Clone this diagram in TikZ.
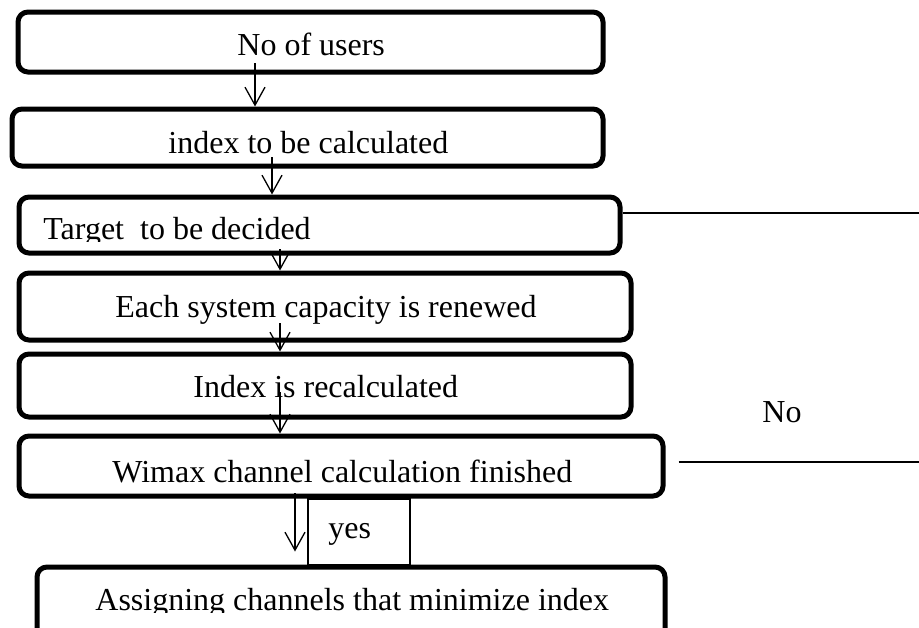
\documentclass[tikz,border=0pt]{standalone}
\usepackage{fontspec}
\setmainfont{Liberation Serif}
\usepackage{tikz}
\usetikzlibrary{arrows.meta,positioning,fit,calc}

\begin{document}
\begin{tikzpicture}[
  x=0.5pt, y=-0.5pt,
  font=\fontsize{16}{19}\selectfont,
  >={Straight Barb[length=9pt,width=10pt]},
  stepbox/.style={draw, rounded corners=5pt, line width=2.5pt, inner sep=0pt},
  yesbox/.style={draw, line width=0.65pt, inner sep=0pt},
  txt/.style={anchor=base west, inner sep=0pt},
  flow/.style={->, line width=0.65pt},
  back/.style={line width=0.65pt}]
\clip (0,0) rectangle (919,627);
% process boxes
\node[stepbox, fit={(18,12) (603,72)}] (users) {};
\node[stepbox, fit={(12,109) (603,166)}] (calc) {};
\node[stepbox, fit={(19,197) (620,253)}] (target) {};
\node[stepbox, fit={(19,273) (631,340)}] (renew) {};
\node[stepbox, fit={(19,354) (631,417)}] (recalc) {};
\node[stepbox, fit={(19,436) (663,496)}] (wimax) {};
\node[stepbox, fit={(37,567) (665,660)}] (assign) {};
\node[yesbox, fit={(308,499) (410,565)}] (yes) {};
% texts
\node[txt] (lusers) at (237,55) {No of users};
\node[txt] (lcalc) at (168,153) {index to be calculated};
\begin{scope}
\clip (0,0) rectangle (919,241);
\node[txt] (ltarget) at (43,239) {Target\ \ to be decided};
\end{scope}
\node[txt] (lrenew) at (115,317) {Each system capacity is renewed};
\node[txt] (lrecalc) at (193,397) {Index is recalculated};
\node[txt] (lwimax) at (112,482) {Wimax channel calculation finished};
\begin{scope}
\clip (0,0) rectangle (919,612);
\node[txt] (lassign) at (95,610) {Assigning channels that minimize index};
\end{scope}
\node[txt] (lyes) at (328,538) {yes};
\node[txt] (lno) at (762,422) {No};
% arrows
\coordinate (t1) at (255,63);
\coordinate (t2) at (272,157);
\coordinate (t3) at (280,249);
\coordinate (t4) at (280,323);
\coordinate (t5) at (280,392);
\coordinate (t6) at (295,493);
\draw[flow] (t1) -- (t1 |- calc.north);
\draw[flow] (t2) -- (t2 |- target.north);
\draw[flow] (t3) -- (t3 |- renew.north);
\draw[flow] (t4) -- (t4 |- recalc.north);
\draw[flow] (t5) -- (t5 |- wimax.north);
\draw[flow] (t6) -- ([yshift=6.5pt]t6 |- assign.north);
% loop back lines
\coordinate (e1) at (919,213);
\coordinate (e2) at (919,462);
\draw[back] (target.east |- e1) -- (e1);
\draw[back] ([xshift=6.5pt]wimax.east |- e2) -- (e2);
\end{tikzpicture}
\end{document}
